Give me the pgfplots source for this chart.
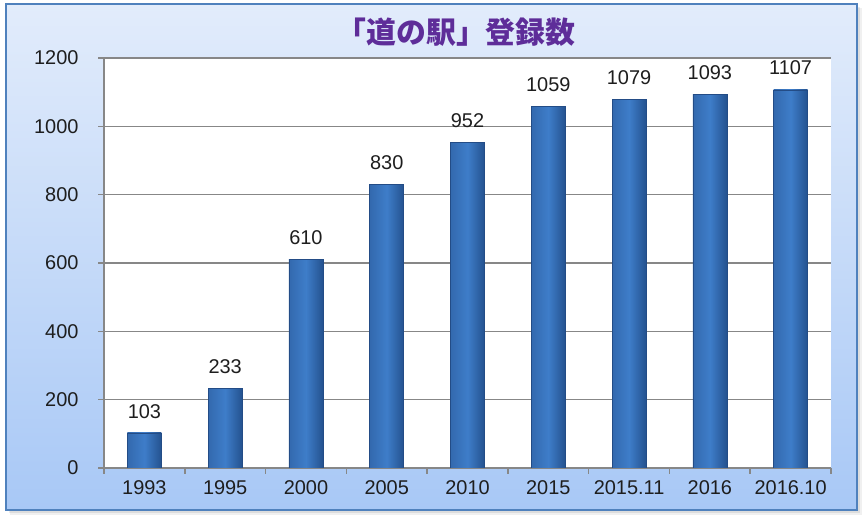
\documentclass[border=0pt]{standalone}
\usepackage{pgfplots}
\pgfplotsset{compat=1.18}
\usepackage{fontspec}
\setmainfont{Liberation Sans}
\newfontfamily\cjk{Noto Sans CJK JP}

\definecolor{frameblue}{HTML}{4F81BD}
\definecolor{bgtop}{HTML}{E2ECFB}
\definecolor{bgbot}{HTML}{A8C8F6}
\definecolor{axisgray}{HTML}{878787}
\definecolor{titlepurple}{HTML}{5E2D99}
\definecolor{barleft}{HTML}{3369AE}
\definecolor{barmid}{HTML}{3E7DC9}
\definecolor{barright}{HTML}{24528F}
\definecolor{barline}{HTML}{234C86}
\definecolor{labelgray}{HTML}{1E1E1E}

\pgfplotsset{
    onebar/.style={draw=barline, line width=0.5bp,
        left color=barleft, right color=barright, middle color=barmid},
}

\begin{document}
\begin{tikzpicture}[x=1bp,y=1bp]
\useasboundingbox (0,0) rectangle (864,518);
% soft shadow of the frame
\fill[black, opacity=0.06] (10,3) rectangle (862,510);
\fill[black, opacity=0.08] (9,5) rectangle (860,511);
% frame with gradient
\shade[top color=bgtop, bottom color=bgbot] (6,8) rectangle (857,514);
\draw[frameblue, line width=2.5bp] (6,8) rectangle (857,514);

\node[text=titlepurple, font=\cjk\bfseries\fontsize{30}{34}\selectfont] at (456,486) {「道の駅」登録数};

\begin{axis}[
    at={(104bp,50bp)}, anchor=south west,
    width=727bp, height=410bp, scale only axis,
    ybar, bar width=34bp, bar shift=0pt,
    xmin=-0.5, xmax=8.5,
    ymin=0, ymax=1200,
    ytick={0,200,...,1200},
    xtick={-0.5,0.5,...,8.5},
    xticklabels={},
    extra x ticks={0,1,2,3,4,5,6,7,8},
    extra x tick labels={1993,1995,2000,2005,2010,2015,2015.11,2016,2016.10},
    extra x tick style={major tick length=0pt},
    axis x line*=bottom, axis y line*=left,
    tick align=outside, major tick length=6bp,
    axis line style={draw=axisgray, line width=1.6bp},
    tick style={draw=axisgray, line width=1.6bp},
    ymajorgrids,
    grid style={draw=axisgray, line width=1.4bp},
    axis background/.style={fill=white},
    /pgf/number format/assume math mode=true,
    /pgf/number format/1000 sep={},
    every tick label/.append style={font=\fontsize{20}{24}\selectfont, text=labelgray},
    yticklabel style={xshift=-16bp},
    xticklabel style={yshift=-9bp},
    nodes near coords,
    nodes near coords style={font=\fontsize{20}{24}\selectfont, text=labelgray, yshift=11bp},
]
\addplot[onebar] coordinates {(0,103)};
\addplot[onebar] coordinates {(1,233)};
\addplot[onebar] coordinates {(2,610)};
\addplot[onebar] coordinates {(3,830)};
\addplot[onebar] coordinates {(4,952)};
\addplot[onebar] coordinates {(5,1059)};
\addplot[onebar] coordinates {(6,1079)};
\addplot[onebar] coordinates {(7,1093)};
\addplot[onebar] coordinates {(8,1107)};
\end{axis}
\end{tikzpicture}
\end{document}
